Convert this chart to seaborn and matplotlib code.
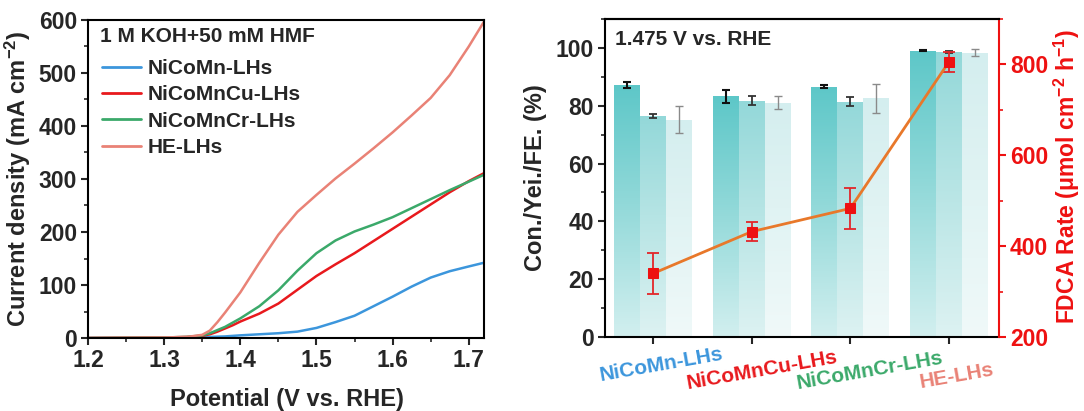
import numpy as np
import pandas as pd
import matplotlib
matplotlib.use("Agg")
import matplotlib.pyplot as plt
import matplotlib.transforms as mtransforms
from matplotlib.colors import LinearSegmentedColormap
from matplotlib.ticker import MultipleLocator
import seaborn as sns

# ---------------- data: LSV curves (left) ----------------
potential = [1.20, 1.25, 1.30, 1.33, 1.35, 1.36, 1.37, 1.38, 1.39, 1.40, 1.425,
             1.45, 1.475, 1.50, 1.525, 1.55, 1.575, 1.60, 1.625, 1.65, 1.675,
             1.70, 1.72]
j_nicomn = [0, 0, 0.5, 1, 1.5, 2, 2.5, 3, 4, 5, 7,
            9, 12, 19, 30, 42, 60, 78, 97, 114, 126,
            135, 142]
j_nicomncu = [0, 0.5, 1, 2, 4, 7, 12, 18, 24, 31, 46,
              65, 91, 117, 139, 160, 183, 206, 229, 252, 275,
              296, 311]
j_nicomncr = [0, 0.5, 1, 2, 5, 9, 15, 21, 29, 37, 60,
              90, 127, 160, 184, 201, 214, 228, 245, 262, 279,
              295, 308]
j_he = [0, 0.5, 1, 2, 6, 14, 30, 48, 67, 86, 142,
        195, 238, 270, 301, 329, 358, 388, 420, 453, 496,
        550, 597]
samples = ["NiCoMn-LHs", "NiCoMnCu-LHs", "NiCoMnCr-LHs", "HE-LHs"]
sample_colors = ["#3C96DC", "#E8191D", "#3BA96A", "#E98276"]

# ---------------- data: bars + rate (right) ----------------
catalysts = samples
metrics = ["Con.", "Yei.", "FE."]
conversion = [87.3, 83.3, 86.6, 99.0]
conversion_err = [1.0, 2.3, 0.6, 0.2]
yield_ = [76.5, 81.8, 81.4, 98.7]
yield_err = [0.8, 1.5, 1.5, 0.3]
fe = [75.2, 81.0, 82.5, 98.3]
fe_err = [4.7, 2.3, 5.0, 1.2]
rate = [340, 432, 483, 805]
rate_err = [45, 21, 45, 22]

# ---------------- style ----------------
sns.set_style("ticks")
plt.rcParams["font.family"] = ["Liberation Sans", "DejaVu Sans"]
plt.rcParams["font.weight"] = "bold"
plt.rcParams["axes.labelweight"] = "bold"
plt.rcParams["mathtext.fontset"] = "custom"
plt.rcParams["mathtext.rm"] = "Liberation Sans:bold"
plt.rcParams["mathtext.bf"] = "Liberation Sans:bold"
plt.rcParams["mathtext.it"] = "Liberation Sans:bold:italic"
plt.rcParams["mathtext.default"] = "rm"

TICK_FS = 16.5
LABEL_FS = 17
TXT_FS = 15
SPINE_W = 1.5

fig = plt.figure(figsize=(10.84, 4.11), dpi=100)

# ================= left panel =================
ax1 = fig.add_axes([88 / 1084, 73 / 411, 396 / 1084, 318 / 411])
lsv = pd.DataFrame({
    "Potential": potential * 4,
    "J": j_nicomn + j_nicomncu + j_nicomncr + j_he,
    "Sample": sum([[s] * len(potential) for s in samples], []),
})
sns.lineplot(data=lsv, x="Potential", y="J", hue="Sample", hue_order=samples,
             palette=sample_colors, linewidth=1.8, ax=ax1, legend=True)
ax1.set_xlim(1.2, 1.72)
ax1.set_ylim(0, 600)
ax1.xaxis.set_major_locator(MultipleLocator(0.1))
ax1.xaxis.set_minor_locator(MultipleLocator(0.05))
ax1.yaxis.set_major_locator(MultipleLocator(100))
ax1.yaxis.set_minor_locator(MultipleLocator(50))
ax1.xaxis.set_major_formatter(matplotlib.ticker.FormatStrFormatter("%.1f"))
for sp in ax1.spines.values():
    sp.set_linewidth(SPINE_W)
    sp.set_color("black")
ax1.tick_params(which="major", direction="out", length=5, width=1.5,
                labelsize=TICK_FS, pad=3)
ax1.tick_params(which="minor", direction="out", length=3, width=1.2)
ax1.set_xlabel("Potential (V vs. RHE)", fontsize=LABEL_FS, fontweight="bold")
ax1.set_ylabel("Current density (mA cm$^{-2}$)", fontsize=LABEL_FS, fontweight="bold")
ax1.xaxis.set_label_coords(0.502, -0.157)
ax1.yaxis.set_label_coords(-0.139, 0.5)
ax1.text(0.03, 0.947, "1 M KOH+50 mM HMF", transform=ax1.transAxes,
         fontsize=TXT_FS, fontweight="bold", va="center", ha="left")
handles, labels = ax1.get_legend_handles_labels()
leg = ax1.legend(handles, labels, loc="upper left", bbox_to_anchor=(0.035, 0.877),
                 frameon=False, fontsize=TXT_FS, handlelength=1.9,
                 handletextpad=0.3, labelspacing=0.35, borderpad=0, borderaxespad=0)
for t in leg.get_texts():
    t.set_fontweight("bold")
for h in leg.get_lines():
    h.set_linewidth(2)

# ================= right panel =================
ax = fig.add_axes([605 / 1084, 74 / 411, 394 / 1084, 318 / 411])
bars = pd.DataFrame({
    "Catalyst": catalysts * 3,
    "Metric": sum([[m] * len(catalysts) for m in metrics], []),
    "Value": conversion + yield_ + fe,
})
top_colors = ["#5DC7C8", "#93D8D9", "#D4EEEF"]
mid_colors = ["#8FD8D8", "#B5E4E4", "#E0F3F3"]
bottom_colors = ["#D2EFEF", "#DDF2F2", "#F0F9F9"]
sns.barplot(data=bars, x="Catalyst", y="Value", hue="Metric", hue_order=metrics,
            order=catalysts, palette=top_colors, width=0.79, gap=0,
            errorbar=None, legend=False, saturation=1, ax=ax, edgecolor="none")
bar_containers = list(ax.containers)

errs = [conversion_err, yield_err, fe_err]
err_colors = ["#111111", "#333333", "#8A8A8A"]
err_lw = [1.5, 1.3, 1.0]
grad = np.linspace(0, 1, 256).reshape(-1, 1)
for k, cont in enumerate(bar_containers):
    cmap = LinearSegmentedColormap.from_list(
        f"g{k}", [(0, bottom_colors[k]), (0.55, mid_colors[k]), (1, top_colors[k])])
    for i, bar in enumerate(cont):
        x0, w, h = bar.get_x(), bar.get_width(), bar.get_height()
        im = ax.imshow(grad, extent=[x0, x0 + w, 0, h], origin="lower",
                       cmap=cmap, aspect="auto", zorder=1.5, interpolation="bilinear")
        im.set_clip_path(bar)
        bar.set_facecolor("none")
        ax.errorbar(x0 + w / 2, h, yerr=errs[k][i], fmt="none", ecolor=err_colors[k],
                    elinewidth=err_lw[k], capsize=3, capthick=err_lw[k], zorder=3)

positions = np.arange(len(catalysts))
ax.set_xlim(-0.49, 3.51)
ax.set_ylim(0, 110)
ax.yaxis.set_major_locator(MultipleLocator(20))
ax.yaxis.set_minor_locator(MultipleLocator(10))
ax.set_xticks(positions)
ax.set_xticklabels([])
ax.set_xlabel("")
ax.set_ylabel("Con./Yei./FE. (%)", fontsize=LABEL_FS, fontweight="bold")
ax.yaxis.set_label_coords(-0.147, 0.5)
ax.tick_params(which="major", direction="out", length=5, width=1.5,
               labelsize=TICK_FS, pad=3)
ax.tick_params(which="minor", direction="out", length=3, width=1.2)
for name, sp in ax.spines.items():
    sp.set_linewidth(SPINE_W)
    sp.set_color("black")
ax.spines["right"].set_visible(False)

# tilted coloured category labels
lbl_dx = [0.08, 0.10, 0.20, 0.08]
lbl_y = [-0.088, -0.104, -0.107, -0.123]
trans = mtransforms.blended_transform_factory(ax.transData, ax.transAxes)
for p, name, col, dx, yy in zip(positions, catalysts, sample_colors, lbl_dx, lbl_y):
    ax.text(p + dx, yy, name, transform=trans, color=col, fontsize=TXT_FS,
            fontweight="bold", rotation=10, ha="center", va="center",
            rotation_mode="anchor")

ax.text(0.025, 0.934, "1.475 V vs. RHE", transform=ax.transAxes,
        fontsize=TXT_FS, fontweight="bold", va="center", ha="left")

# twin axis: FDCA rate
ax2 = ax.twinx()
ax2.errorbar(positions, rate, yerr=rate_err, fmt="none", ecolor="#E3262A",
             elinewidth=1.3, capsize=4, capthick=1.3, zorder=2)
sns.lineplot(x=positions, y=rate, ax=ax2, color="#E8782A", linewidth=2,
             marker="s", markersize=7.5, markerfacecolor="#EE1111",
             markeredgecolor="#EE1111", zorder=3)
ax2.set_ylim(200, 900)
ax2.yaxis.set_major_locator(MultipleLocator(200))
ax2.yaxis.set_minor_locator(MultipleLocator(100))
ax2.set_ylabel("FDCA Rate (μmol cm$^{-2}$ h$^{-1}$)", fontsize=16.5,
               fontweight="bold", color="#EE1111")
ax2.yaxis.set_label_coords(1.133, 0.505)
ax2.tick_params(which="major", direction="out", length=5, width=1.5,
                labelsize=TICK_FS, colors="#EE1111", pad=3)
ax2.tick_params(which="minor", direction="out", length=3, width=1.2, colors="#EE1111")
for name, sp in ax2.spines.items():
    sp.set_linewidth(SPINE_W)
    sp.set_color("black")
ax2.spines["right"].set_color("#EE1111")
ax2.spines["left"].set_visible(False)
ax2.spines["bottom"].set_visible(False)
for lab in ax2.get_yticklabels():
    lab.set_fontweight("bold")
for a in (ax1, ax):
    for lab in a.get_xticklabels() + a.get_yticklabels():
        lab.set_fontweight("bold")

fig.savefig("out.png", dpi=100)
